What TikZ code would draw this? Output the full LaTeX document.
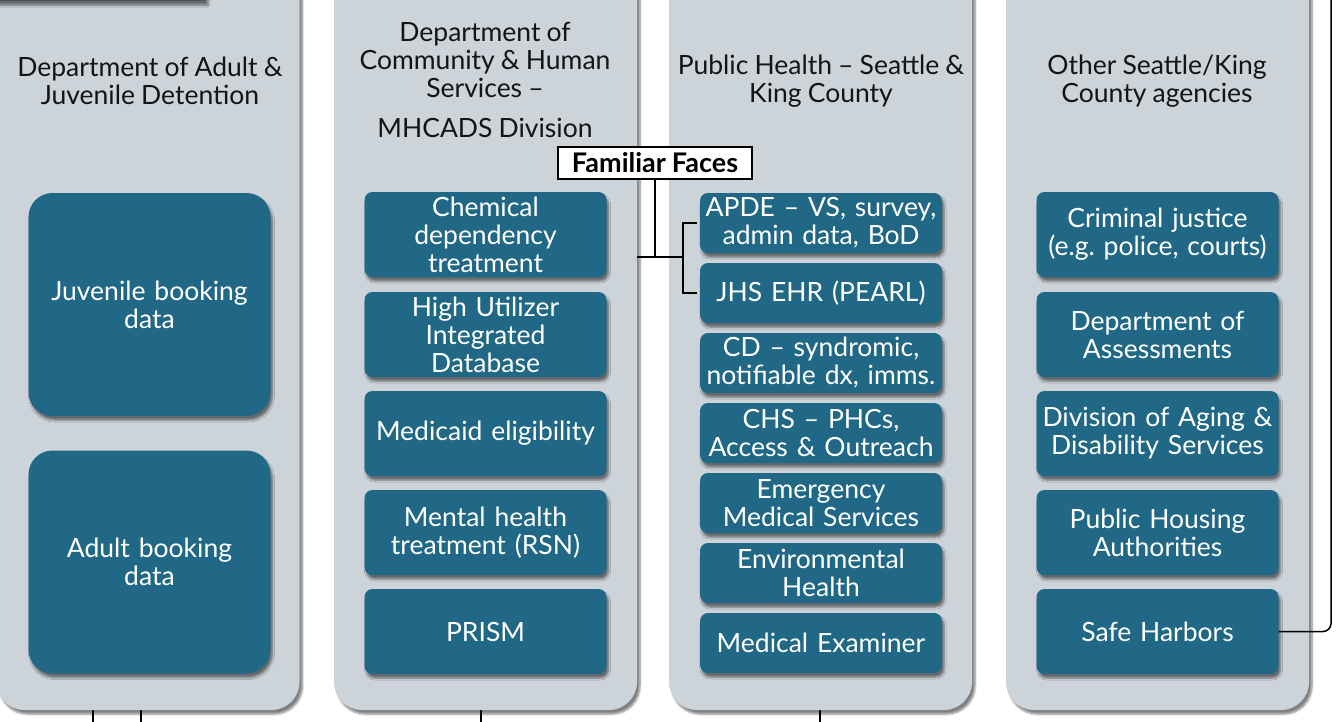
\documentclass[tikz,border=0pt]{standalone}
\usepackage{fontspec}
\setmainfont{Lato}[WordSpace=0.9]
\usetikzlibrary{shadows.blur}
\definecolor{panelgray}{RGB}{204,211,217}
\definecolor{boxteal}{RGB}{32,104,134}
\definecolor{topdark}{RGB}{78,83,88}
\definecolor{headtxt}{RGB}{20,20,20}
\frenchspacing
\begin{document}
\begin{tikzpicture}[x=1pt,y=-1pt,
  font=\fontsize{26.5}{28}\selectfont,
  panel/.style={fill=panelgray, rounded corners=28pt, minimum width=303pt,
    minimum height=750pt, inner sep=0pt,
    blur shadow={shadow xshift=3pt, shadow yshift=-4pt, shadow blur steps=6, shadow opacity=50}},
  head/.style={text=headtxt, align=center, inner sep=0pt},
  tbox/.style={fill=boxteal, text=white, align=center, inner sep=0pt,
    rounded corners=8pt, minimum width=242pt, text width=238pt,
    blur shadow={shadow xshift=2pt, shadow yshift=-4pt, shadow blur steps=5, shadow opacity=50}},
  bigbox/.style={tbox, rounded corners=24pt, minimum height=223pt},
  medbox/.style={tbox, minimum height=85pt},
  smallbox/.style={tbox, minimum height=60pt},
  link/.style={draw=black, line width=2pt},
  ffbox/.style={draw=black, line width=2pt, fill=white, minimum width=194pt,
    minimum height=32pt, inner sep=0pt, font=\fontsize{27}{28}\selectfont\bfseries},
  topbar/.style={fill=topdark, minimum width=220pt, minimum height=50pt, inner sep=0pt,
    blur shadow={shadow xshift=3pt, shadow yshift=-4pt, shadow blur steps=6, shadow opacity=50}}
]
\useasboundingbox (0,0) rectangle (1336,721);

% bottom ticks (behind panels)
\coordinate (t1a) at (93,700);  \coordinate (t1b) at (93,722);
\coordinate (t2a) at (141,700); \coordinate (t2b) at (141,722);
\coordinate (t3a) at (481,700); \coordinate (t3b) at (481,722);
\coordinate (t4a) at (820,700); \coordinate (t4b) at (820,722);
\draw[line width=1.5pt] (t1a) -- (t1b);
\draw[line width=1.5pt] (t2a) -- (t2b);
\draw[line width=1.5pt] (t3a) -- (t3b);
\draw[line width=1.5pt] (t4a) -- (t4b);

% panels
\node[panel] (col1) at (148,335) {};
\node[panel] (col2) at (485.5,335) {};
\node[panel] (col3) at (820.5,335) {};
\node[panel] (col4) at (1157.5,335) {};

% partially visible top box
\node[topbar] (topbox) at (95,-24) {};

% headers
\node[head] (h1) at (150,81) {Department of Adult \&\\Juvenile Detention};
\node[head] (h2) at (485,60) {Department of\\Community \& Human\\Services –};
\node[head] (h2b) at (485,128) {MHCADS Division};
\node[head] (h3) at (821,81) {Public Health – Seattle \&\\King County};
\node[head] (h4) at (1157,81) {Other Seattle/King\\County agencies};

% column 1
\node[bigbox] (juv) at (149.5,304.5) {Juvenile booking\\data};
\node[bigbox] (adult) at (149.5,562) {Adult booking\\data};

% column 2
\node[medbox] (chem) at (485.5,234.5) {Chemical\\dependency\\treatment};
\node[medbox] (huid) at (485.5,334.5) {High Utilizer\\Integrated\\Database};
\node[medbox] (medi) at (485.5,433.5) {Medicaid eligibility};
\node[medbox] (mht) at (485.5,532.5) {Mental health\\treatment (RSN)};
\node[medbox] (prism) at (485.5,631.5) {PRISM};

% column 3
\node[smallbox] (apde) at (821,223) {APDE – VS, survey,\\admin data, BoD};
\node[smallbox] (jhs) at (821,293) {JHS EHR (PEARL)};
\node[smallbox] (cd) at (821,363) {CD – syndromic,\\notifiable dx, imms.};
\node[smallbox] (chs) at (821,433) {CHS – PHCs,\\Access \& Outreach};
\node[smallbox] (ems) at (821,503) {Emergency\\Medical Services};
\node[smallbox] (env) at (821,573) {Environmental\\Health};
\node[smallbox] (me) at (821,643) {Medical Examiner};

% column 4
\node[medbox] (cj) at (1157.5,234.5) {Criminal justice\\(e.g. police, courts)};
\node[medbox] (doa) at (1157.5,334.5) {Department of\\Assessments};
\node[medbox] (adsd) at (1157.5,433.5) {Division of Aging \&\\Disability Services};
\node[medbox] (pha) at (1157.5,532.5) {Public Housing\\Authorities};
\node[medbox] (sh) at (1157.5,631.5) {Safe Harbors};

% Familiar Faces
\node[ffbox] (ff) at (655,163) {Familiar Faces};
\coordinate (jn) at (655,257);
\coordinate (br) at (683,257);
\draw[link] (ff.south) -- (jn);
\draw[link] (col2.east |- jn) -- (br);
\draw[link] ([xshift=-3pt]apde.west) -| (br) |- ([xshift=-3pt]jhs.west);

% right connector
\coordinate (topR) at (1331,-2);
\draw[line width=1.5pt, rounded corners=8pt] (sh.east) -- (topR |- sh.east) -- (topR);
\end{tikzpicture}
\end{document}
